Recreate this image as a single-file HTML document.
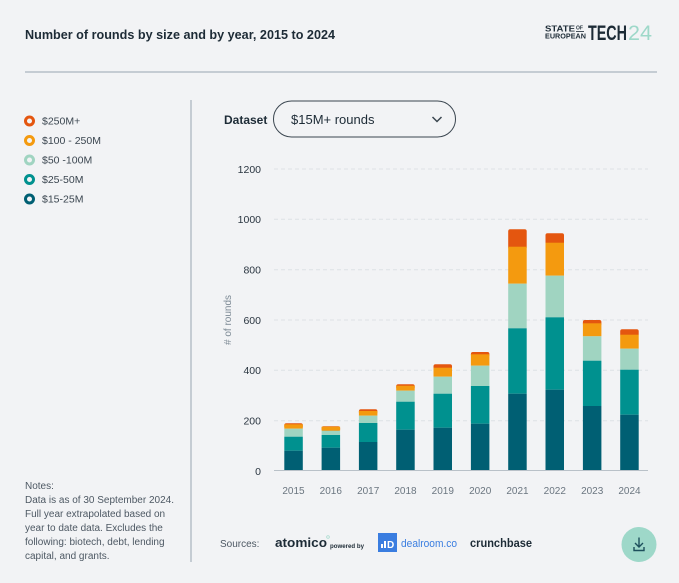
<!DOCTYPE html>
<html><head><meta charset="utf-8"><style>
html,body{margin:0;padding:0;background:#f2f3f5;}
svg{display:block;font-family:"Liberation Sans",sans-serif;}
</style></head><body>
<svg width="679" height="583" viewBox="0 0 679 583" xmlns="http://www.w3.org/2000/svg">
<rect width="679" height="583" fill="#f2f3f5"/>
<text x="25" y="39" font-size="13" font-weight="bold" fill="#1d2b36" textLength="310" lengthAdjust="spacingAndGlyphs">Number of rounds by size and by year, 2015 to 2024</text>
<text x="545" y="31.7" font-size="8.5" font-weight="bold" fill="#1d2b36" textLength="30" lengthAdjust="spacingAndGlyphs">STATE</text>
<text x="576" y="29.5" font-size="5" font-weight="bold" fill="#1d2b36">OF</text>
<rect x="576" y="31" width="8" height="0.8" fill="#1d2b36"/>
<text x="545" y="38.5" font-size="7" font-weight="bold" fill="#1d2b36" textLength="41" lengthAdjust="spacingAndGlyphs">EUROPEAN</text>
<text x="588" y="40" font-size="21" font-weight="bold" fill="#1d2b36" textLength="39" lengthAdjust="spacingAndGlyphs">TECH</text>
<text x="628" y="40" font-size="21" fill="#9ed8c9" textLength="24" lengthAdjust="spacingAndGlyphs">24</text>
<rect x="25" y="71" width="632" height="2" fill="#c5ccd3"/>
<rect x="190" y="100" width="2" height="462" fill="#c5ccd3"/>
<g font-size="10.5" fill="#3b4650">
<circle cx="29.5" cy="121" r="4" fill="none" stroke="#e4560f" stroke-width="3"/><text x="42" y="124.5">$250M+</text>
<circle cx="29.5" cy="140.5" r="4" fill="none" stroke="#f49a0f" stroke-width="3"/><text x="42" y="144">$100 - 250M</text>
<circle cx="29.5" cy="160" r="4" fill="none" stroke="#a0d4c1" stroke-width="3"/><text x="42" y="163.5">$50 -100M</text>
<circle cx="29.5" cy="179.5" r="4" fill="none" stroke="#00918f" stroke-width="3"/><text x="42" y="183">$25-50M</text>
<circle cx="29.5" cy="199" r="4" fill="none" stroke="#005f73" stroke-width="3"/><text x="42" y="202.5">$15-25M</text>
</g>
<text x="224" y="124" font-size="12" font-weight="bold" fill="#1d2b36">Dataset</text>
<rect x="273.5" y="101" width="182" height="36" rx="18" fill="none" stroke="#3b4650" stroke-width="1"/>
<text x="291" y="124" font-size="13" fill="#1d2b36">$15M+ rounds</text>
<path d="M432.5 117 l4.5 4.5 l4.5 -4.5" fill="none" stroke="#3b4650" stroke-width="1.5"/>
<g stroke="#dde1e5" stroke-width="1" stroke-dasharray="4,3">
<line x1="274" y1="169" x2="648" y2="169"/>
<line x1="274" y1="219.3" x2="648" y2="219.3"/>
<line x1="274" y1="269.7" x2="648" y2="269.7"/>
<line x1="274" y1="320" x2="648" y2="320"/>
<line x1="274" y1="370.3" x2="648" y2="370.3"/>
<line x1="274" y1="420.7" x2="648" y2="420.7"/>
</g>
<g font-size="10.5" fill="#2a3540" text-anchor="end">
<text x="261" y="173">1200</text>
<text x="261" y="223">1000</text>
<text x="261" y="273.5">800</text>
<text x="261" y="324">600</text>
<text x="261" y="374">400</text>
<text x="261" y="424.5">200</text>
<text x="261" y="475">0</text>
</g>
<text transform="translate(231,320) rotate(-90)" font-size="10" fill="#7d8a95" text-anchor="middle"># of rounds</text>
<g>
<rect x="284.3" y="423.3" width="18.5" height="5" rx="2" fill="#e4560f"/>
<rect x="284.3" y="424.3" width="18.5" height="4.4" fill="#f49a0f"/>
<rect x="284.3" y="428.7" width="18.5" height="8" fill="#a0d4c1"/>
<rect x="284.3" y="436.7" width="18.5" height="14" fill="#00918f"/>
<rect x="284.3" y="450.7" width="18.5" height="19.8" fill="#005f73"/>
<rect x="321.6" y="426.2" width="18.5" height="5" rx="2" fill="#e4560f"/>
<rect x="321.6" y="426.7" width="18.5" height="4" fill="#f49a0f"/>
<rect x="321.6" y="430.7" width="18.5" height="4.3" fill="#a0d4c1"/>
<rect x="321.6" y="435" width="18.5" height="12.7" fill="#00918f"/>
<rect x="321.6" y="447.7" width="18.5" height="22.8" fill="#005f73"/>
<rect x="358.9" y="409.3" width="18.5" height="5" rx="2" fill="#e4560f"/>
<rect x="358.9" y="411" width="18.5" height="4.7" fill="#f49a0f"/>
<rect x="358.9" y="415.7" width="18.5" height="7.3" fill="#a0d4c1"/>
<rect x="358.9" y="423" width="18.5" height="19" fill="#00918f"/>
<rect x="358.9" y="442" width="18.5" height="28.5" fill="#005f73"/>
<rect x="396.2" y="384.3" width="18.5" height="5" rx="2" fill="#e4560f"/>
<rect x="396.2" y="385.7" width="18.5" height="5" fill="#f49a0f"/>
<rect x="396.2" y="390.7" width="18.5" height="11" fill="#a0d4c1"/>
<rect x="396.2" y="401.7" width="18.5" height="28" fill="#00918f"/>
<rect x="396.2" y="429.7" width="18.5" height="40.8" fill="#005f73"/>
<rect x="433.5" y="364.3" width="18.5" height="6" rx="2" fill="#e4560f"/>
<rect x="433.5" y="367.7" width="18.5" height="9" fill="#f49a0f"/>
<rect x="433.5" y="376.7" width="18.5" height="17" fill="#a0d4c1"/>
<rect x="433.5" y="393.7" width="18.5" height="34" fill="#00918f"/>
<rect x="433.5" y="427.7" width="18.5" height="42.8" fill="#005f73"/>
<rect x="470.9" y="352" width="18.5" height="5" rx="2" fill="#e4560f"/>
<rect x="470.9" y="354.3" width="18.5" height="11.4" fill="#f49a0f"/>
<rect x="470.9" y="365.7" width="18.5" height="20.3" fill="#a0d4c1"/>
<rect x="470.9" y="386" width="18.5" height="37.7" fill="#00918f"/>
<rect x="470.9" y="423.7" width="18.5" height="46.8" fill="#005f73"/>
<rect x="508.2" y="229.3" width="18.5" height="20" rx="2" fill="#e4560f"/>
<rect x="508.2" y="246.7" width="18.5" height="37" fill="#f49a0f"/>
<rect x="508.2" y="283.7" width="18.5" height="44.6" fill="#a0d4c1"/>
<rect x="508.2" y="328.3" width="18.5" height="65.4" fill="#00918f"/>
<rect x="508.2" y="393.7" width="18.5" height="76.8" fill="#005f73"/>
<rect x="545.5" y="233.3" width="18.5" height="12" rx="2" fill="#e4560f"/>
<rect x="545.5" y="242.7" width="18.5" height="33" fill="#f49a0f"/>
<rect x="545.5" y="275.7" width="18.5" height="41.6" fill="#a0d4c1"/>
<rect x="545.5" y="317.3" width="18.5" height="72.4" fill="#00918f"/>
<rect x="545.5" y="389.7" width="18.5" height="80.8" fill="#005f73"/>
<rect x="582.9" y="320" width="18.5" height="6" rx="2" fill="#e4560f"/>
<rect x="582.9" y="323.3" width="18.5" height="13" fill="#f49a0f"/>
<rect x="582.9" y="336.3" width="18.5" height="24.4" fill="#a0d4c1"/>
<rect x="582.9" y="360.7" width="18.5" height="45.3" fill="#00918f"/>
<rect x="582.9" y="406" width="18.5" height="64.5" fill="#005f73"/>
<rect x="620.2" y="329.3" width="18.5" height="7" rx="2" fill="#e4560f"/>
<rect x="620.2" y="334.7" width="18.5" height="14" fill="#f49a0f"/>
<rect x="620.2" y="348.7" width="18.5" height="21" fill="#a0d4c1"/>
<rect x="620.2" y="369.7" width="18.5" height="45" fill="#00918f"/>
<rect x="620.2" y="414.7" width="18.5" height="55.8" fill="#005f73"/>
</g>
<line x1="274" y1="470.5" x2="648" y2="470.5" stroke="#b9c1c8" stroke-width="1"/>
<g font-size="10" fill="#6b7680" text-anchor="middle">
<text x="293.5" y="494">2015</text>
<text x="330.8" y="494">2016</text>
<text x="368.2" y="494">2017</text>
<text x="405.5" y="494">2018</text>
<text x="442.8" y="494">2019</text>
<text x="480.2" y="494">2020</text>
<text x="517.5" y="494">2021</text>
<text x="554.8" y="494">2022</text>
<text x="592.2" y="494">2023</text>
<text x="629.5" y="494">2024</text>
</g>
<g font-size="10" fill="#4d5863">
<text x="25" y="489">Notes:</text>
<text x="25" y="503">Data is as of 30 September 2024.</text>
<text x="25" y="517">Full year extrapolated based on</text>
<text x="25" y="531">year to date data. Excludes the</text>
<text x="25" y="545">following: biotech, debt, lending</text>
<text x="25" y="559">capital, and grants.</text>
</g>
<text x="220" y="547" font-size="10" fill="#4d5863">Sources:</text>
<text x="275" y="547" font-size="13" font-weight="bold" fill="#1d2b36" textLength="52" lengthAdjust="spacingAndGlyphs">atomico</text>
<circle cx="328" cy="537" r="1.3" fill="none" stroke="#9ed8c9" stroke-width="0.7"/>
<text x="330" y="548" font-size="6" font-weight="bold" fill="#1d2b36" textLength="34" lengthAdjust="spacingAndGlyphs">powered by</text>
<rect x="378" y="533" width="19" height="19" fill="#3a7de0"/>
<rect x="381" y="544" width="2" height="4" fill="#fff"/><rect x="384" y="541" width="2" height="7" fill="#fff"/>
<text x="387" y="548" font-size="10" font-weight="bold" fill="#fff">D</text>
<text x="401" y="547" font-size="11" fill="#3a7de0" textLength="56" lengthAdjust="spacingAndGlyphs">dealroom.co</text>
<text x="470" y="547" font-size="12" font-weight="bold" fill="#1d2b36" textLength="62" lengthAdjust="spacingAndGlyphs">crunchbase</text>
<circle cx="639" cy="544.5" r="17.5" fill="#9ed8c9"/>
<path d="M639 537.5 v9 M635 543 l4 4 l4 -4 M634 547 v3.5 h10 v-3.5" fill="none" stroke="#1d4f5c" stroke-width="1.4"/>
</svg>
</body></html>
